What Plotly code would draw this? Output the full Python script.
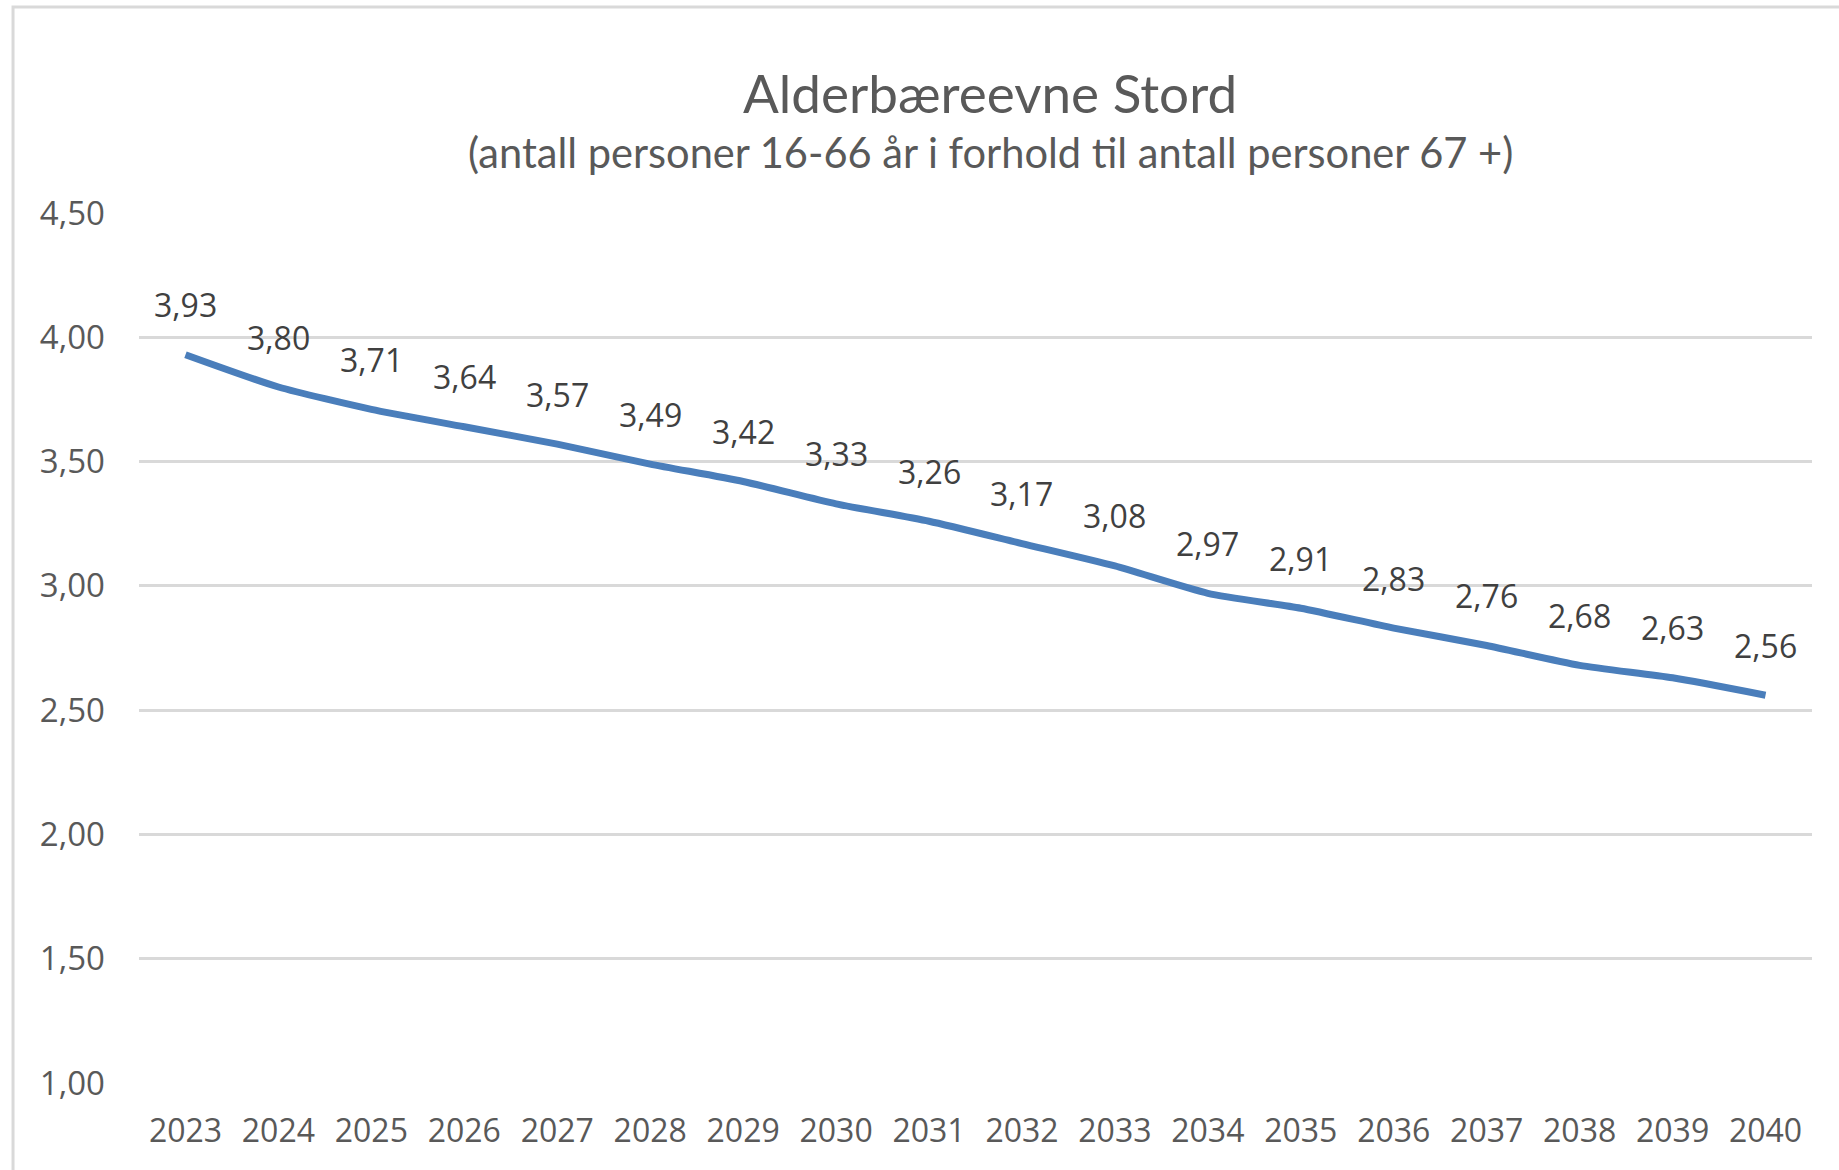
import plotly.graph_objects as go

# Old-age support ratio for Stord, 2023-2040
years = [str(y) for y in range(2023, 2041)]
ratio = [3.93, 3.80, 3.71, 3.64, 3.57, 3.49, 3.42, 3.33, 3.26,
         3.17, 3.08, 2.97, 2.91, 2.83, 2.76, 2.68, 2.63, 2.56]
y_ticks = [1.0, 1.5, 2.0, 2.5, 3.0, 3.5, 4.0, 4.5]

title_text = "Alderbæreevne Stord"
subtitle_text = "(antall personer 16-66 år i forhold til antall personer 67 +)"

LINE_BLUE = "#4A7EBB"
GRID_GREY = "#D9D9D9"
AXIS_TEXT = "#595959"
LABEL_TEXT = "#404040"


def fmt_no(v):
    return f"{v:.2f}".replace(".", ",")


fig = go.Figure()
fig.add_trace(go.Scatter(
    x=years, y=ratio, mode="lines",
    line=dict(color=LINE_BLUE, width=7, shape="spline", smoothing=0.6),
    hoverinfo="skip", showlegend=False,
))

# value labels above each point (category index on the x axis)
for i, v in enumerate(ratio):
    fig.add_annotation(
        x=i, y=v, text=fmt_no(v), showarrow=False,
        xanchor="center", yanchor="middle", yshift=50,
        font=dict(family="Open Sans", size=32, color=LABEL_TEXT),
    )

# chart title and subtitle
fig.add_annotation(
    xref="paper", yref="paper", x=0.5087, y=1.138,
    text=title_text, showarrow=False, xanchor="center", yanchor="middle",
    font=dict(family="Lato", size=53, color=AXIS_TEXT),
)
fig.add_annotation(
    xref="paper", yref="paper", x=0.5087, y=1.070,
    text=subtitle_text, showarrow=False, xanchor="center", yanchor="middle",
    font=dict(family="Lato", size=41.6, color=AXIS_TEXT),
)

# chart area border
fig.add_shape(
    type="rect", xref="paper", yref="paper",
    x0=-0.0753, x1=1.03, y0=-0.13, y1=1.2368,
    line=dict(color=GRID_GREY, width=3), layer="below",
)

fig.update_layout(
    width=1839, height=1170,
    margin=dict(l=139, r=27, t=213, b=87),
    paper_bgcolor="white", plot_bgcolor="white",
    separators=", ",
    showlegend=False,
)
fig.update_xaxes(
    type="category", range=[-0.5, len(years) - 0.5],
    showgrid=False, showline=False, zeroline=False, ticks="",
    tickfont=dict(family="Open Sans", size=32, color=AXIS_TEXT),
    ticklabelstandoff=26,
)
fig.update_yaxes(
    range=[1.0, 4.5], tickvals=y_ticks,
    ticktext=[fmt_no(t) for t in y_ticks],
    showgrid=True, gridcolor=GRID_GREY, gridwidth=2.5,
    showline=False, zeroline=False, ticks="",
    tickfont=dict(family="Open Sans", size=33, color=AXIS_TEXT),
    ticklabelstandoff=33,
)

fig.write_html("out.html")
